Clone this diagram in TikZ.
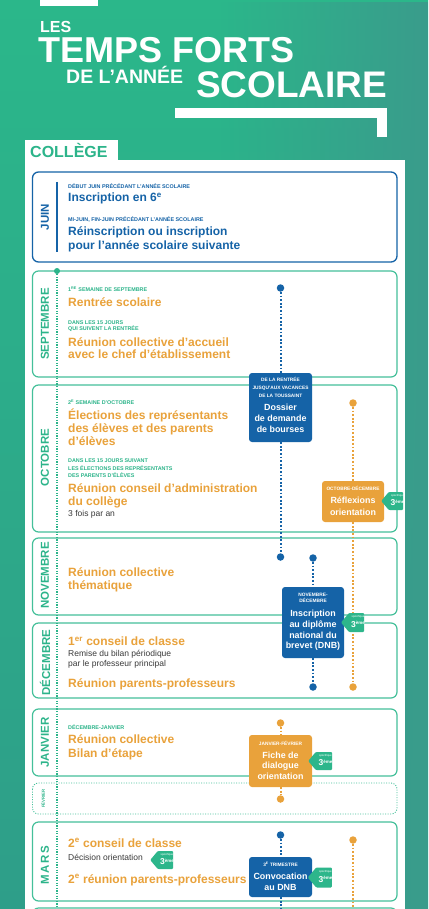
\documentclass[tikz,border=0pt]{standalone}
\usepackage{fontspec}
\setmainfont{Liberation Sans}
\usetikzlibrary{shapes.symbols,fadings}
\definecolor{bgA}{HTML}{2BB78A}
\definecolor{bgB}{HTML}{2E9E89}
\definecolor{bgC}{HTML}{3A9C8C}
\definecolor{cgreen}{HTML}{2CB48A}
\definecolor{cborder}{HTML}{45C09A}
\definecolor{cblue}{HTML}{1563A7}
\definecolor{corange}{HTML}{E9A23B}
\definecolor{cgray}{HTML}{3A3A3A}
\definecolor{ctag}{HTML}{2DB68B}
\tikzset{
  lblg/.style={font={\fontsize{5.4}{6}\selectfont\bfseries}, text=cgreen, inner sep=0, anchor=base west},
  lblb/.style={lblg, text=cblue},
  ttlo/.style={font={\fontsize{12}{13}\selectfont\bfseries}, text=corange, inner sep=0, anchor=base west},
  ttlb/.style={ttlo, text=cblue},
  subt/.style={font={\fontsize{8.5}{9}\selectfont}, text=cgray, inner sep=0, anchor=base west},
  month/.style={font={\fontsize{11.5}{12}\selectfont\bfseries}, text=cgreen, rotate=90, inner sep=0},
  mbox/.style={draw=cborder, line width=1.2pt, rounded corners=6pt},
  cbox/.style={rounded corners=3pt, inner sep=0, minimum width=63pt},
  bluebox/.style={cbox, fill=cblue},
  orangebox/.style={cbox, fill=corange},
  boxlbl/.style={font={\fontsize{4.8}{5}\selectfont\bfseries}, text=white, inner sep=0, anchor=base},
  boxttl/.style={font={\fontsize{8.9}{10}\selectfont\bfseries}, text=white, inner sep=0, anchor=base},
  dotb/.style={circle, fill=cblue, minimum size=7.5pt, inner sep=0},
  doto/.style={circle, fill=corange, minimum size=7.5pt, inner sep=0},
  dotg/.style={circle, fill=cgreen, minimum size=6pt, inner sep=0},
  linkb/.style={draw=cblue, line width=2pt, dash pattern=on 1.8pt off 1.8pt},
  linko/.style={draw=corange, line width=2pt, dash pattern=on 1.8pt off 1.8pt},
  linkg/.style={draw=cgreen, line width=1.1pt, dash pattern=on 1.1pt off 1.5pt},
  tagbox/.style={shape=signal, signal to=west, signal pointer angle=100, fill=ctag, inner sep=0, minimum height=18pt, minimum width=23pt, rounded corners=1pt},
  tagsm/.style={font={\fontsize{2.8}{3}\selectfont}, text=white, inner sep=0},
  tagbig/.style={font={\fontsize{8.5}{9}\selectfont\bfseries}, text=white, inner sep=0},
  ttl/.style={text=white, inner sep=0, anchor=base west, text depth=0pt},
}
\begin{document}
\begin{tikzpicture}[x=1pt,y=-1pt]
\useasboundingbox (0,0) rectangle (428,909);
% background
\shade[top color=bgA, bottom color=bgB] (0,0) rectangle (428,909);
\fill[bgC, path fading=west] (220,0) rectangle (428,909);
% title bars
\fill[white] (40,0) rectangle (98,6);
\fill[white] (175,108) rectangle (387,118);
\fill[white] (377,108) rectangle (387,137);
% title
\node[ttl, font={\fontsize{16}{16}\selectfont\bfseries}] (tles) at (40,33) {LES};
\node[ttl, font={\fontsize{36}{36}\selectfont\bfseries}] (ttemps) at (38.5,63) {TEMPS FORTS};
\node[ttl, font={\fontsize{19.5}{19.5}\selectfont\bfseries}, text height=13pt] (tde) at (66,84) {DE L’ANNÉE};
\node[ttl, font={\fontsize{37}{37}\selectfont\bfseries}] (tscol) at (196,97.5) {SCOLAIRE};
% panel
\fill[white] (25,160) rectangle (405,915);
\fill[white] (25,140) rectangle (118,161);
\node[anchor=base west, inner sep=0, text=cgreen, font={\fontsize{16}{16}\selectfont\bfseries}] (college) at (30,158) {COLLÈGE};
% month boxes
\draw[draw=cblue, line width=1.3pt, rounded corners=6pt] (32.5,172) rectangle (397,262);
\draw[cblue, line width=1.5pt] (57,182) -- (57,252);
\draw[mbox] (32.5,271) rectangle (397,377);
\draw[mbox] (32.5,385) rectangle (397,532);
\draw[mbox] (32.5,538) rectangle (397,615);
\draw[mbox] (32.5,623) rectangle (397,698);
\draw[mbox] (32.5,709) rectangle (397,776);
\draw[draw=cborder, line width=0.9pt, dash pattern=on 1pt off 1.5pt, rounded corners=6pt] (32.5,783) rectangle (397,814);
\draw[mbox] (32.5,822) rectangle (397,901);
\draw[mbox] (32.5,908) rectangle (397,960);
% month labels
\node[month, text=cblue] (mjuin) at (45,217) {JUIN};
\node[month] (msep) at (45,324) {SEPTEMBRE};
\node[month] (moct) at (45,457.5) {OCTOBRE};
\node[month] (mnov) at (45,575.5) {NOVEMBRE};
\node[month] (mdec) at (45,662.5) {DÉCEMBRE};
\node[month] (mjan) at (45,742.5) {JANVIER};
\node[month, font={\fontsize{4.3}{5}\selectfont\bfseries}] (mfev) at (43,798.5) {FÉVRIER};
\node[month, font={\addfontfeature{LetterSpace=12}\fontsize{11.5}{12}\selectfont\bfseries}] (mmars) at (45,865) {MARS};
% green timeline
\node[dotg] (gd) at (57,271) {};
\coordinate (gend) at (57,912);
\draw[linkg] (gd) -- (gend);
% dots
\node[dotb] (bd1) at (280.5,288) {};
\node[doto] (od1) at (353,403) {};
\node[dotb] (bd2) at (280.5,557) {};
\node[dotb] (bd3) at (313,558) {};
\node[dotb] (bd4) at (313,687) {};
\node[doto] (od2) at (353,687) {};
\node[doto] (od3) at (280.5,723) {};
\node[doto] (od4) at (280.5,799) {};
\node[dotb] (bd5) at (280.5,835) {};
\node[doto] (od5) at (353,840) {};
\coordinate (bend) at (280.5,912);
\coordinate (oend) at (353,912);
% coloured boxes
\node[bluebox, minimum height=69pt] (dossier) at (280.5,407.5) {};
\node[orangebox, minimum width=62pt, minimum height=41pt] (reflex) at (353,501.5) {};
\node[bluebox, minimum width=62pt, minimum height=71pt] (inscr) at (313,622.5) {};
\node[orangebox, minimum height=52pt] (fiche) at (280.5,761) {};
\node[bluebox, minimum height=40pt] (convoc) at (280.5,877) {};
% connectors
\draw[linkb] (bd1) -- (dossier);
\draw[linkb] (dossier) -- (bd2);
\draw[linko] (od1) -- (reflex);
\draw[linko] (reflex) -- (od2);
\draw[linkb] (bd3) -- (inscr);
\draw[linkb] (inscr) -- (bd4);
\draw[linko] (od3) -- (fiche);
\draw[linko] (fiche) -- (od4);
\draw[linkb] (bd5) -- (convoc);
\draw[linkb] (convoc) -- (bend);
\draw[linko] (od5) -- (oend);
% box texts
\node[boxlbl] (dx1) at (280.5,381.7) {DE LA RENTRÉE};
\node[boxlbl] (dx2) at (280.5,389.5) {JUSQU’AUX VACANCES};
\node[boxlbl] (dx3) at (280.5,397.3) {DE LA TOUSSAINT};
\node[boxttl] (dx4) at (280.5,410.5) {Dossier};
\node[boxttl] (dx5) at (280.5,421.3) {de demande};
\node[boxttl] (dx6) at (280.5,432) {de bourses};
\node[boxlbl] (rx1) at (353,490.7) {OCTOBRE-DÉCEMBRE};
\node[boxttl] (rx2) at (353,503.5) {Réflexions};
\node[boxttl] (rx3) at (353,515) {orientation};
\node[boxlbl] (ix1) at (313,596.7) {NOVEMBRE-};
\node[boxlbl] (ix2) at (313,602.7) {DÉCEMBRE};
\node[boxttl] (ix3) at (313,616) {Inscription};
\node[boxttl] (ix4) at (313,627.3) {au diplôme};
\node[boxttl] (ix5) at (313,638) {national du};
\node[boxttl] (ix6) at (313,648.5) {brevet (DNB)};
\node[boxlbl] (fx1) at (280.5,745) {JANVIER-FÉVRIER};
\node[boxttl] (fx2) at (280.5,758.3) {Fiche de};
\node[boxttl] (fx3) at (280.5,768.8) {dialogue};
\node[boxttl] (fx4) at (280.5,779.3) {orientation};
\node[boxlbl] (cx1) at (280.5,866.7) {3\textsuperscript{E} TRIMESTRE};
\node[boxttl] (cx2) at (280.5,879.3) {Convocation};
\node[boxttl] (cx3) at (280.5,890.7) {au DNB};
% tags
\node[tagbox, minimum width=22pt] (tg1) at (396,501) {};
\node[tagsm] (tg1a) at (397.5,495.5) {spécifique};
\node[tagbig] (tg1b) at (397.5,503) {3\raisebox{2.5pt}{\fontsize{4.5}{5}\selectfont ème}};
\node[tagbox, minimum height=19pt] (tg2) at (356.5,622.5) {};
\node[tagsm] (tg2a) at (358,617) {spécifique};
\node[tagbig] (tg2b) at (358,624.5) {3\raisebox{2.5pt}{\fontsize{4.5}{5}\selectfont ème}};
\node[tagbox, minimum width=24pt] (tg3) at (324,761) {};
\node[tagsm] (tg3a) at (325.5,755.5) {spécifique};
\node[tagbig] (tg3b) at (325.5,763) {3\raisebox{2.5pt}{\fontsize{4.5}{5}\selectfont ème}};
\node[tagbox, minimum width=24pt, minimum height=20pt] (tg4) at (324,877.5) {};
\node[tagsm] (tg4a) at (325.5,871.5) {spécifique};
\node[tagbig] (tg4b) at (325.5,879.5) {3\raisebox{2.5pt}{\fontsize{4.5}{5}\selectfont ème}};
\node[tagbox] (tg5) at (165.5,860) {};
\node[tagsm] (tg5a) at (167,854.5) {spécifique};
\node[tagbig] (tg5b) at (167,862) {3\raisebox{2.5pt}{\fontsize{4.5}{5}\selectfont ème}};
% JUIN texts
\node[lblb] (j1) at (68,188.5) {DÉBUT JUIN PRÉCÉDANT L’ANNÉE SCOLAIRE};
\node[ttlb] (j2) at (68,202) {Inscription en 6\textsuperscript{e}};
\node[lblb] (j3) at (68,222) {MI-JUIN, FIN-JUIN PRÉCÉDANT L’ANNÉE SCOLAIRE};
\node[ttlb] (j4) at (68,236) {Réinscription ou inscription};
\node[ttlb] (j5) at (68,249) {pour l’année scolaire suivante};
% SEPTEMBRE
\node[lblg] (s1) at (68,291.5) {1\textsuperscript{RE} SEMAINE DE SEPTEMBRE};
\node[ttlo] (s2) at (68,306) {Rentrée scolaire};
\node[lblg] (s3) at (68,324) {DANS LES 15 JOURS};
\node[lblg] (s4) at (68,330.5) {QUI SUIVENT LA RENTRÉE};
\node[ttlo] (s5) at (68,346) {Réunion collective d’accueil};
\node[ttlo] (s6) at (68,358.5) {avec le chef d’établissement};
% OCTOBRE
\node[lblg] (o1) at (68,404.3) {2\textsuperscript{E} SEMAINE D’OCTOBRE};
\node[ttlo] (o2) at (68,419) {Élections des représentants};
\node[ttlo] (o3) at (68,432.5) {des élèves et des parents};
\node[ttlo] (o4) at (68,445.5) {d’élèves};
\node[lblg] (o5) at (68,462.7) {DANS LES 15 JOURS SUIVANT};
\node[lblg] (o6) at (68,470) {LES ÉLECTIONS DES REPRÉSENTANTS};
\node[lblg] (o7) at (68,477.3) {DES PARENTS D’ÉLÈVES};
\node[ttlo] (o8) at (68,492.5) {Réunion conseil d’administration};
\node[ttlo] (o9) at (68,505) {du collège};
\node[subt] (o10) at (68,516.5) {3 fois par an};
% NOVEMBRE
\node[ttlo] (n1) at (68,576.7) {Réunion collective};
\node[ttlo] (n2) at (68,589.3) {thématique};
% DECEMBRE
\node[ttlo] (d1) at (68,645.7) {1\textsuperscript{er} conseil de classe};
\node[subt] (d2) at (68,656.5) {Remise du bilan périodique};
\node[subt] (d3) at (68,666.5) {par le professeur principal};
\node[ttlo] (d4) at (68,687.5) {Réunion parents-professeurs};
% JANVIER
\node[lblg] (ja1) at (68,729) {DÉCEMBRE-JANVIER};
\node[ttlo] (ja2) at (68,743.5) {Réunion collective};
\node[ttlo] (ja3) at (68,757.5) {Bilan d’étape};
% MARS
\node[ttlo] (m1) at (68,847.3) {2\textsuperscript{e} conseil de classe};
\node[subt] (m2) at (68,860.3) {Décision orientation};
\node[ttlo] (m3) at (68,883.3) {2\textsuperscript{e} réunion parents-professeurs};
\end{tikzpicture}
\end{document}
